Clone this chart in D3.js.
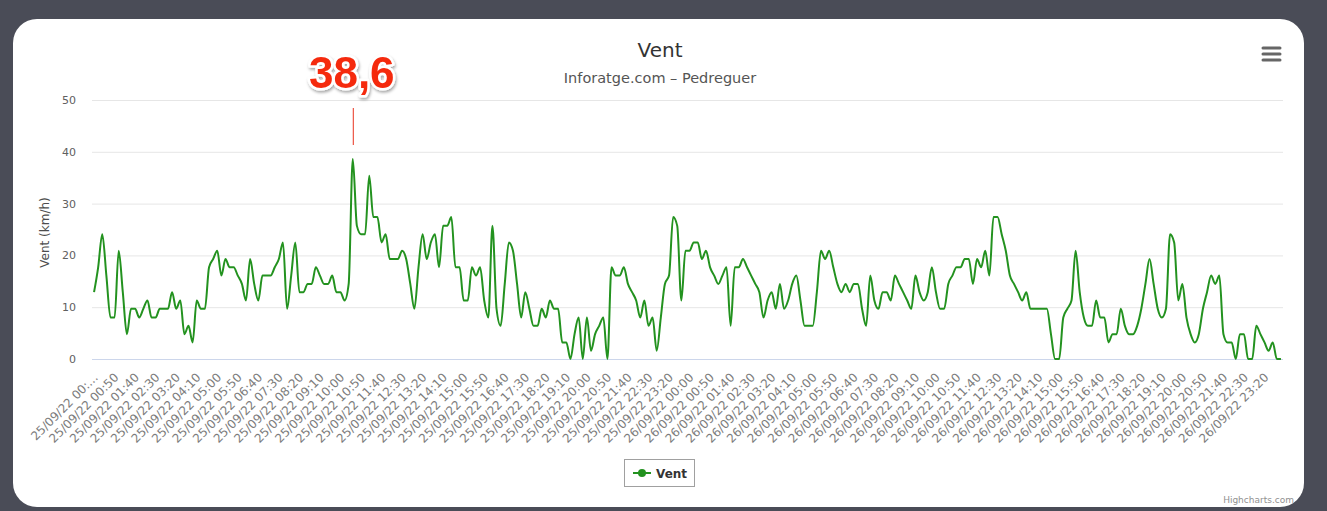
<!DOCTYPE html>
<html>
<head>
<meta charset="utf-8">
<script src="https://cdn.jsdelivr.net/npm/d3@7"></script>
<style>
  body { margin: 0; background: #4a4c57; }
  svg { display: block; font-family: "DejaVu Sans", sans-serif; }
</style>
</head>
<body>
<div id="chart"></div>
<script>
// wind speed (km/h), one reading every 10 minutes, 25/09/22 -> 26/09/22
const vent = [
  12.9,17.7,24.1,16.1,8,8,20.9,12.9,4.8,9.7,
  9.7,8,9.7,11.3,8,8,9.7,9.7,9.7,12.9,
  9.7,11.3,4.8,6.4,3.2,11.3,9.7,9.7,17.7,19.3,
  20.9,16.1,19.3,17.7,17.7,16.1,14.5,11.3,19.3,14.5,
  11.3,16.1,16.1,16.1,17.7,19.3,22.5,9.7,16.1,22.5,
  12.9,12.9,14.5,14.5,17.7,16.1,14.5,14.5,16.1,12.9,
  12.9,11.3,14.5,38.6,25.7,24.1,24.1,35.4,27.4,27.4,
  22.5,24.1,19.3,19.3,19.3,20.9,19.3,14.5,9.7,17.7,
  24.1,19.3,22.5,24.1,17.7,25.7,25.7,27.4,17.7,17.7,
  11.3,11.3,17.7,16.1,17.7,11.3,8,25.7,9.7,6.4,
  14.5,22.5,20.9,14.5,8,12.9,9.7,6.4,6.4,9.7,
  8,11.3,9.7,9.7,3.2,3.2,0,4.8,8,0,
  8,1.6,4.8,6.4,8,0,17.7,16.1,16.1,17.7,
  14.5,12.9,11.3,8,11.3,6.4,8,1.6,8,14.5,
  16.1,27.4,25.7,11.3,20.9,20.9,22.5,22.5,19.3,20.9,
  17.7,16.1,14.5,16.1,17.7,6.4,17.7,17.7,19.3,17.7,
  16.1,14.5,12.9,8,11.3,12.9,9.7,14.5,9.7,11.3,
  14.5,16.1,11.3,6.4,6.4,6.4,12.9,20.9,19.3,20.9,
  17.7,14.5,12.9,14.5,12.9,14.5,14.5,9.7,6.4,16.1,
  11.3,9.7,12.9,12.9,11.3,16.1,14.5,12.9,11.3,9.7,
  16.1,12.9,11.3,12.9,17.7,12.9,9.7,9.7,14.5,16.1,
  17.7,17.7,19.3,19.3,14.5,19.3,17.7,20.9,16.1,27.4,
  27.4,24.1,20.9,16.1,14.5,12.9,11.3,12.9,9.7,9.7,
  9.7,9.7,9.7,4.8,0,0,8,9.7,11.3,20.9,
  12.9,8,6.4,6.4,11.3,8,8,3.2,4.8,4.8,
  9.7,6.4,4.8,4.8,6.4,9.7,14.5,19.3,14.5,9.7,
  8,9.7,24.1,22.5,11.3,14.5,8,4.8,3.2,4.8,
  9.7,12.9,16.1,14.5,16.1,4.8,3.2,3.2,0,4.8,
  4.8,0,0,6.4,4.8,3.2,1.6,3.2,0,0
];

// one label every 5 readings
const tickLabels = [
  "25/09/22 00:…","25/09/22 00:50","25/09/22 01:40","25/09/22 02:30","25/09/22 03:20",
  "25/09/22 04:10","25/09/22 05:00","25/09/22 05:50","25/09/22 06:40","25/09/22 07:30",
  "25/09/22 08:20","25/09/22 09:10","25/09/22 10:00","25/09/22 10:50","25/09/22 11:40",
  "25/09/22 12:30","25/09/22 13:20","25/09/22 14:10","25/09/22 15:00","25/09/22 15:50",
  "25/09/22 16:40","25/09/22 17:30","25/09/22 18:20","25/09/22 19:10","25/09/22 20:00",
  "25/09/22 20:50","25/09/22 21:40","25/09/22 22:30","25/09/22 23:20",
  "26/09/22 00:00","26/09/22 00:50","26/09/22 01:40","26/09/22 02:30","26/09/22 03:20",
  "26/09/22 04:10","26/09/22 05:00","26/09/22 05:50","26/09/22 06:40","26/09/22 07:30",
  "26/09/22 08:20","26/09/22 09:10","26/09/22 10:00","26/09/22 10:50","26/09/22 11:40",
  "26/09/22 12:30","26/09/22 13:20","26/09/22 14:10","26/09/22 15:00","26/09/22 15:50",
  "26/09/22 16:40","26/09/22 17:30","26/09/22 18:20","26/09/22 19:10","26/09/22 20:00",
  "26/09/22 20:50","26/09/22 21:40","26/09/22 22:30","26/09/22 23:20"
];
const tickEvery = 5;
const yTicks = [0, 10, 20, 30, 40, 50];

const titleText = "Vent";
const subtitleText = "Inforatge.com – Pedreguer";
const yTitle = "Vent (km/h)";
const peakLabel = "38,6";

// dimensions
const width = 1327;
const height = 511;
const marginLeft = 92;
const marginRight = 44;
const plotTop = 100;
const plotBottom = 359;
const lineColor = "#23921f";

const svg = d3.select("#chart").append("svg")
    .attr("width", width)
    .attr("height", height);

const defs = svg.append("defs");
const shadow = defs.append("filter").attr("id", "shadow")
    .attr("x", "-20%").attr("y", "-20%").attr("width", "140%").attr("height", "160%");
shadow.append("feDropShadow")
    .attr("dx", 1).attr("dy", 2).attr("stdDeviation", 1.8)
    .attr("flood-color", "#000").attr("flood-opacity", 0.35);

// card
svg.append("rect")
    .attr("x", 13).attr("y", 19)
    .attr("width", 1291).attr("height", 488)
    .attr("rx", 24)
    .attr("fill", "#fff");

// scales
const x = d3.scaleBand()
    .domain(d3.range(vent.length))
    .range([marginLeft, width - marginRight]);
const xc = i => x(i) + x.bandwidth() / 2;

const y = d3.scaleLinear()
    .domain([0, 50])
    .range([plotBottom, plotTop]);

// grid + y labels
const yAxis = svg.append("g")
    .attr("transform", `translate(${marginLeft},0)`)
    .call(d3.axisLeft(y).tickValues(yTicks).tickSize(0).tickPadding(16))
    .call(g => g.select(".domain").remove());
yAxis.selectAll(".tick line").clone()
    .attr("x2", width - marginLeft - marginRight)
    .attr("stroke", "#e6e6e6");
yAxis.selectAll(".tick line").filter((d, i, n) => n[i].getAttribute("x2") === null).remove();
yAxis.selectAll("text")
    .attr("fill", "#606060")
    .attr("font-size", 11)
    .attr("font-family", "DejaVu Sans, sans-serif");

svg.append("text")
    .attr("transform", `translate(49,${(plotTop + plotBottom) / 2 + 3}) rotate(-90)`)
    .attr("text-anchor", "middle")
    .attr("fill", "#4d4d4d")
    .attr("font-size", 12)
    .text(yTitle);

// x axis
const xAxis = svg.append("g")
    .attr("transform", `translate(0,${plotBottom})`)
    .call(d3.axisBottom(x)
        .tickValues(d3.range(0, tickLabels.length * tickEvery, tickEvery))
        .tickFormat(i => tickLabels[i / tickEvery])
        .tickSize(0));
xAxis.select(".domain").attr("stroke", "#ccd6eb").attr("d", `M${marginLeft},0.5H${width - marginRight}`);
xAxis.selectAll("text")
    .attr("fill", "#7c7c7c")
    .attr("font-size", 12)
    .attr("font-family", "DejaVu Sans, sans-serif")
    .attr("text-anchor", "end")
    .attr("x", 4)
    .attr("y", 0)
    .attr("dy", "0.35em")
    .attr("transform", "translate(-1,19) rotate(-45)");

// series
const line = d3.line()
    .curve(d3.curveMonotoneX)
    .x((d, i) => xc(i))
    .y(d => y(d));

svg.append("path")
    .datum(vent)
    .attr("d", line)
    .attr("fill", "none")
    .attr("stroke", lineColor)
    .attr("stroke-width", 2)
    .attr("stroke-linejoin", "round");

// max annotation
const iMax = d3.maxIndex(vent);
svg.append("line")
    .attr("x1", xc(iMax) + 0.5).attr("x2", xc(iMax) + 0.5)
    .attr("y1", 108).attr("y2", 145)
    .attr("stroke", "#e8321e")
    .attr("stroke-width", 1);
svg.append("text")
    .attr("x", xc(iMax) - 1)
    .attr("y", 88)
    .attr("text-anchor", "middle")
    .attr("font-family", "Liberation Sans, Arial, sans-serif")
    .attr("font-weight", "bold")
    .attr("font-size", 44)
    .attr("fill", "#f52a10")
    .attr("stroke", "#fff")
    .attr("stroke-width", 5)
    .attr("stroke-linejoin", "round")
    .attr("paint-order", "stroke")
    .attr("filter", "url(#shadow)")
    .text(peakLabel);

// titles
svg.append("text")
    .attr("x", 660).attr("y", 57)
    .attr("text-anchor", "middle")
    .attr("fill", "#333")
    .attr("font-size", 20)
    .text(titleText);
svg.append("text")
    .attr("x", 660).attr("y", 83)
    .attr("text-anchor", "middle")
    .attr("fill", "#555")
    .attr("font-size", 14.5)
    .text(subtitleText);

// context menu icon
svg.append("g")
    .selectAll("line")
    .data([48, 54, 60])
    .join("line")
    .attr("x1", 1263).attr("x2", 1280)
    .attr("y1", d => d).attr("y2", d => d)
    .attr("stroke", "#666")
    .attr("stroke-width", 3)
    .attr("stroke-linecap", "round");

// legend
const legend = svg.append("g").attr("transform", "translate(624,459)");
legend.append("rect")
    .attr("x", 0.5).attr("y", 0.5)
    .attr("width", 70).attr("height", 27)
    .attr("fill", "#fff")
    .attr("stroke", "#a0a0a0");
legend.append("line")
    .attr("x1", 9).attr("x2", 27)
    .attr("y1", 14).attr("y2", 14)
    .attr("stroke", lineColor)
    .attr("stroke-width", 2);
legend.append("circle")
    .attr("cx", 18).attr("cy", 14).attr("r", 4)
    .attr("fill", lineColor);
legend.append("text")
    .attr("x", 32).attr("y", 18.5)
    .attr("fill", "#333")
    .attr("font-size", 12)
    .attr("font-weight", "bold")
    .text("Vent");

// credits
svg.append("text")
    .attr("x", 1294).attr("y", 503)
    .attr("text-anchor", "end")
    .attr("fill", "#909090")
    .attr("font-size", 9)
    .text("Highcharts.com");
</script>
</body>
</html>
